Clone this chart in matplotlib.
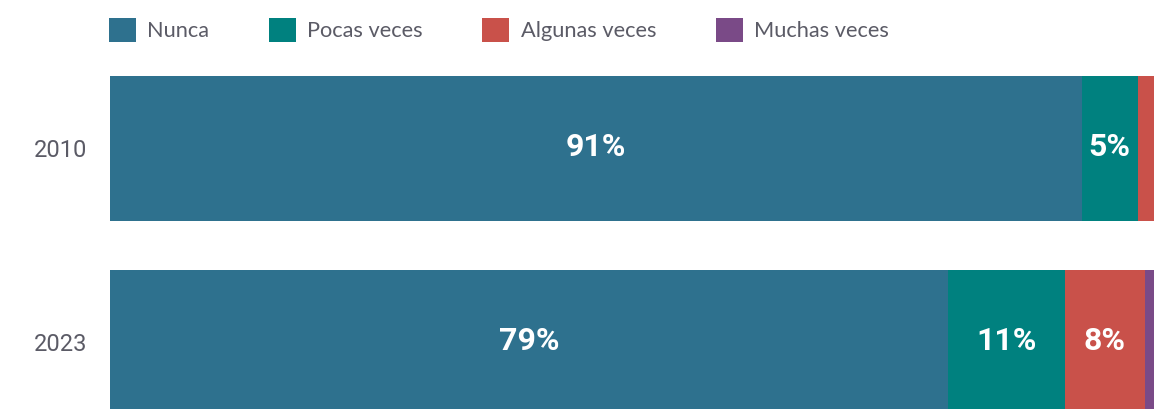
import matplotlib.pyplot as plt
from matplotlib.patches import Patch
import numpy as np

years = ['2010', '2023']
categories = ['Nunca', 'Pocas veces', 'Algunas veces', 'Muchas veces']
nunca = [91.2, 78.7]
pocas = [5.3, 10.9]
algunas = [2.6, 7.6]
muchas = [0.9, 2.8]
labels_nunca = ['91%', '79%']
labels_pocas = ['5%', '11%']
labels_algunas = ['', '8%']
labels_muchas = ['', '']

colors = ['#2e718e', '#00817f', '#c9514a', '#7a4a87']
text_gray = '#5b5b66'

fig = plt.figure(figsize=(11.54, 4.09), dpi=100)
W, H = 1154, 409
ax = fig.add_axes([110 / W, 0, 1 - 110 / W, (409 - 60) / H])

y = np.arange(len(years))
series = [nunca, pocas, algunas, muchas]
texts = [labels_nunca, labels_pocas, labels_algunas, labels_muchas]
left = np.zeros(len(years))
for vals, labs, col in zip(series, texts, colors):
    vals = np.array(vals)
    ax.barh(y, vals, left=left, height=0.747, color=col, edgecolor='none')
    for i in range(len(years)):
        if labs[i]:
            ax.text(left[i] + vals[i] / 2, y[i] - 0.005, labs[i], ha='center', va='center',
                    color='white', fontsize=23, fontweight='bold', family='Roboto')
    left += vals

ax.set_xlim(0, 98)
ax.set_ylim(1.343, -0.456)
ax.set_yticks(y)
ax.set_yticklabels(years, family='Roboto', fontsize=17, color=text_gray)
ax.tick_params(axis='y', length=0, pad=16.5)
ax.set_xticks([])
for s in ax.spines.values():
    s.set_visible(False)

handles = [Patch(facecolor=c, edgecolor='none') for c in colors]
fig.legend(handles, categories, loc='upper left', bbox_to_anchor=(100 / W, 1 - 9 / H),
           ncol=4, frameon=False, prop={'family': 'Lato', 'size': 15.7},
           labelcolor=text_gray, handlelength=1.25, handleheight=1.35,
           handletextpad=0.52, columnspacing=2.72, borderaxespad=0)

fig.savefig('out.png', dpi=100)
